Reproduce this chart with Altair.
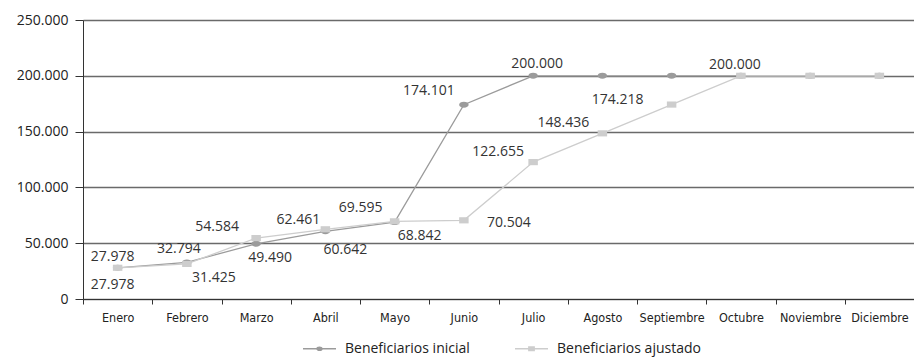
import altair as alt
import pandas as pd

months = ["Enero", "Febrero", "Marzo", "Abril", "Mayo", "Junio", "Julio",
          "Agosto", "Septiembre", "Octubre", "Noviembre", "Diciembre"]
inicial = [27978, 32794, 49490, 60642, 68842, 174101, 200000,
           200000, 200000, 200000, 200000, 200000]
ajustado = [27978, 31425, 54584, 62461, 69595, 70504, 122655,
            148436, 174218, 200000, 200000, 200000]
series_names = ["Beneficiarios inicial", "Beneficiarios ajustado"]
y_ticks = [0, 50000, 100000, 150000, 200000, 250000]

# how many leading months carry a value label, per series
n_labels = {"Beneficiarios inicial": 7, "Beneficiarios ajustado": 10}
# label placement (pixel offsets from the point)
label_offsets = {
    "Beneficiarios inicial": [(-5, -11), (-8, -13), (14, 14), (20, 19), (25, 14),
                              (-35, -14), (4, -12)],
    "Beneficiarios ajustado": [(-5, 17), (27, 14), (-39, -11), (-27, -9), (-34, -13),
                               (45, 3), (-35, -10), (-39, -10), (-54, -5), (-6, -11)],
}

C_INI = "#9b9b9b"
C_AJU = "#cdcdcd"
FONT = "Open Sans"
NARROW = "Liberation Sans Narrow, DejaVu Sans Condensed, Open Sans"

rows = []
for s, vals in zip(series_names, [inicial, ajustado]):
    for m, v in zip(months, vals):
        rows.append({"mes": m, "valor": v, "serie": s})
df = pd.DataFrame(rows)

x_enc = alt.X("mes:N", sort=months,
              scale=alt.Scale(type="band", paddingInner=0, paddingOuter=0),
              bandPosition=0.5,
              axis=alt.Axis(title=None, labelAngle=0, tickBand="extent",
                            labelFont=NARROW, labelFontSize=12.5, labelColor="#222",
                            domainColor="#333", tickColor="#333", tickSize=5,
                            labelPadding=7, grid=False))
y_enc = alt.Y("valor:Q",
              scale=alt.Scale(domain=[0, 250000], nice=False),
              axis=alt.Axis(title=None, values=y_ticks,
                            labelExpr="replace(format(datum.value, ','), /,/g, '.')",
                            labelFont=FONT, labelFontSize=14, labelColor="#222",
                            domainColor="#333", tickColor="#333", tickSize=8,
                            labelPadding=7, grid=True, gridColor="#6a6a6a",
                            gridWidth=1.3))

ELLIPSE = "M-1,0A1,0.62,0,1,1,1,0A1,0.62,0,1,1,-1,0Z"
RECT = "M-1,-0.65L1,-0.65L1,0.65L-1,0.65Z"
LEG_CIRC = "M-1,0L1,0M-0.15,0A0.15,0.095,0,1,1,0.15,0A0.15,0.095,0,1,1,-0.15,0Z"
LEG_SQ = "M-1,0L1,0M-0.16,-0.1L0.16,-0.1L0.16,0.1L-0.16,0.1Z"

layers = []
for s, col, shp in [(series_names[0], C_INI, ELLIPSE), (series_names[1], C_AJU, RECT)]:
    base = alt.Chart(df).transform_filter(alt.datum.serie == s)
    layers.append(base.mark_line(color=col, strokeWidth=1.3).encode(x=x_enc, y=y_enc))
    layers.append(base.mark_point(shape=shp, size=90, filled=True, color=col,
                                  opacity=1).encode(x=x_enc, y=y_enc))

leg = alt.Legend(title=None, orient="none", legendX=219, legendY=311,
                 direction="horizontal", symbolSize=1089, symbolStrokeWidth=1.5,
                 symbolOpacity=1, labelFont=FONT, labelFontSize=14,
                 labelColor="#222", columnPadding=42, labelOffset=8, padding=0)
legend_layer = alt.Chart(df).mark_point(filled=True, opacity=0).encode(
    x=x_enc, y=y_enc,
    fill=alt.Fill("serie:N", scale=alt.Scale(domain=series_names, range=[C_INI, C_AJU]), legend=leg),
    stroke=alt.Stroke("serie:N", scale=alt.Scale(domain=series_names, range=[C_INI, C_AJU]), legend=leg),
    shape=alt.Shape("serie:N", scale=alt.Scale(domain=series_names, range=[LEG_CIRC, LEG_SQ]), legend=leg),
)
layers.append(legend_layer)

# value labels, one small layer per label so each gets its own offset
for s, vals in zip(series_names, [inicial, ajustado]):
    for i in range(n_labels[s]):
        dx, dy = label_offsets[s][i]
        d = pd.DataFrame({"mes": [months[i]], "valor": [vals[i]],
                          "texto": [f"{vals[i]:,}".replace(",", ".")]})
        layers.append(alt.Chart(d).mark_text(font=FONT, fontSize=14, color="#333",
                                             align="center", baseline="middle",
                                             dx=dx, dy=dy).encode(
            x=x_enc, y=y_enc, text="texto:N"))

chart = alt.layer(*layers).properties(
    width=831, height=279,
    padding={"left": 75, "top": 12, "right": 0, "bottom": 60},
    autosize=alt.AutoSizeParams(type="none"),
).configure_view(stroke=None)

chart.save("out.html", embed_options={"renderer": "svg", "actions": False})
